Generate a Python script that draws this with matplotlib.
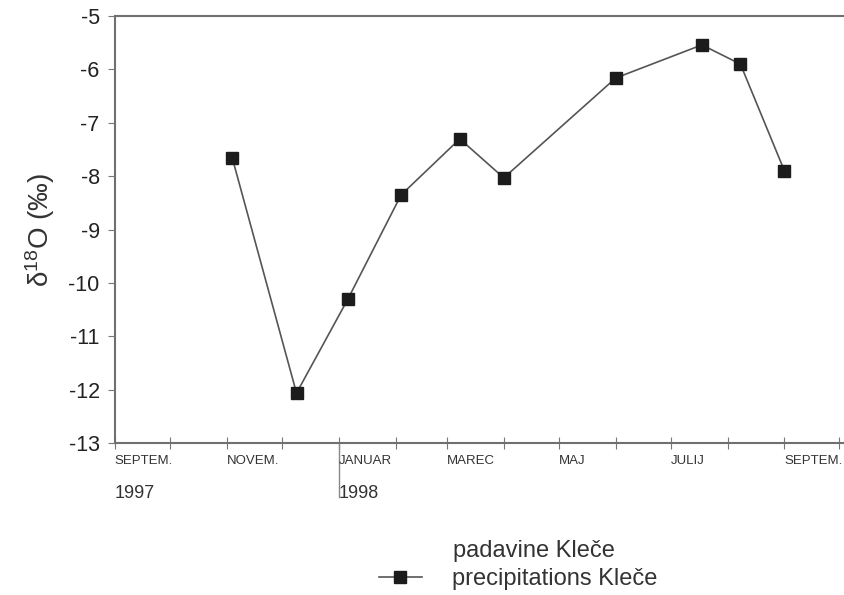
import numpy as np
import matplotlib
matplotlib.use("Agg")
import matplotlib.pyplot as plt
import matplotlib.dates as mdates
import pandas as pd

# sampling dates and d18O values
dates = pd.to_datetime(["1997-11-04", "1997-12-09", "1998-01-06", "1998-02-04",
                        "1998-03-08", "1998-04-01", "1998-06-01", "1998-07-18",
                        "1998-08-08", "1998-09-01"])
d18o = [-7.66, -12.06, -10.30, -8.35, -7.30, -8.03, -6.16, -5.54, -5.90, -7.90]

month_ticks = pd.date_range("1997-09-01", "1998-10-01", freq="MS")
month_labels = {"1997-09": "SEPTEM.", "1997-11": "NOVEM.", "1998-01": "JANUAR",
                "1998-03": "MAREC", "1998-05": "MAJ", "1998-07": "JULIJ",
                "1998-09": "SEPTEM."}
years = ["1997", "1998"]
year_pos = pd.to_datetime(["1997-09-01", "1998-01-01"])

plt.rcParams['font.family'] = ['Liberation Sans', 'DejaVu Sans']
plt.rcParams['axes.unicode_minus'] = False

fig = plt.figure(figsize=(8.45, 5.95), dpi=100)
ax = fig.add_axes([0.136, 0.255, 0.864, 0.718])

ax.plot(dates, d18o, color="#555555", lw=1.2, marker="s", markersize=8.5,
        markerfacecolor="#1c1c1c", markeredgecolor="#1c1c1c")

ax.set_ylim(-13, -5)
ax.set_yticks(np.arange(-13, -4, 1))
ax.set_xlim(mdates.date2num(pd.Timestamp("1997-09-01")),
            mdates.date2num(pd.Timestamp("1998-10-04")))
ax.set_xticks(month_ticks)
ax.set_xticklabels([])

for s in ["left", "top", "bottom"]:
    ax.spines[s].set_color("#707070")
    ax.spines[s].set_linewidth(1.5)
ax.spines["right"].set_visible(False)

ax.tick_params(axis="y", direction="out", length=5, color="#777777",
               labelsize=15.5, labelcolor="#222222", pad=6)
ax.tick_params(axis="x", direction="inout", length=8, color="#777777")

# month labels, left aligned at their ticks
trans = ax.get_xaxis_transform()
for d in month_ticks:
    key = d.strftime("%Y-%m")
    if key in month_labels:
        ax.text(d, -0.027, month_labels[key], transform=trans, ha="left", va="top",
                fontsize=9.5, color="#333333",
                family=["Liberation Sans Narrow", "Liberation Sans"])
for d, y in zip(year_pos, years):
    ax.text(d, -0.097, y, transform=trans, ha="left", va="top", fontsize=13,
            color="#333333", family=["Liberation Sans Narrow", "Liberation Sans"])
ax.plot([year_pos[1], year_pos[1]], [0, -0.125], transform=trans, color="#888888",
        lw=1, clip_on=False)

ax.set_ylabel(r"$\mathregular{\delta^{18}O}$ (‰)", fontsize=20, color="#333333",
              labelpad=8)

fig.text(0.536, 0.074, "padavine Kleče", fontsize=17, color="#333333",
         ha="left", va="center")
fig.legend(handles=ax.lines[:1], labels=["precipitations Kleče"], loc="center left",
           bbox_to_anchor=(0.429, 0.027), frameon=False, fontsize=17,
           handlelength=1.8, handletextpad=1.3, labelcolor="#333333",
           borderpad=0.2)

fig.savefig("out.png", dpi=100, facecolor="white")
